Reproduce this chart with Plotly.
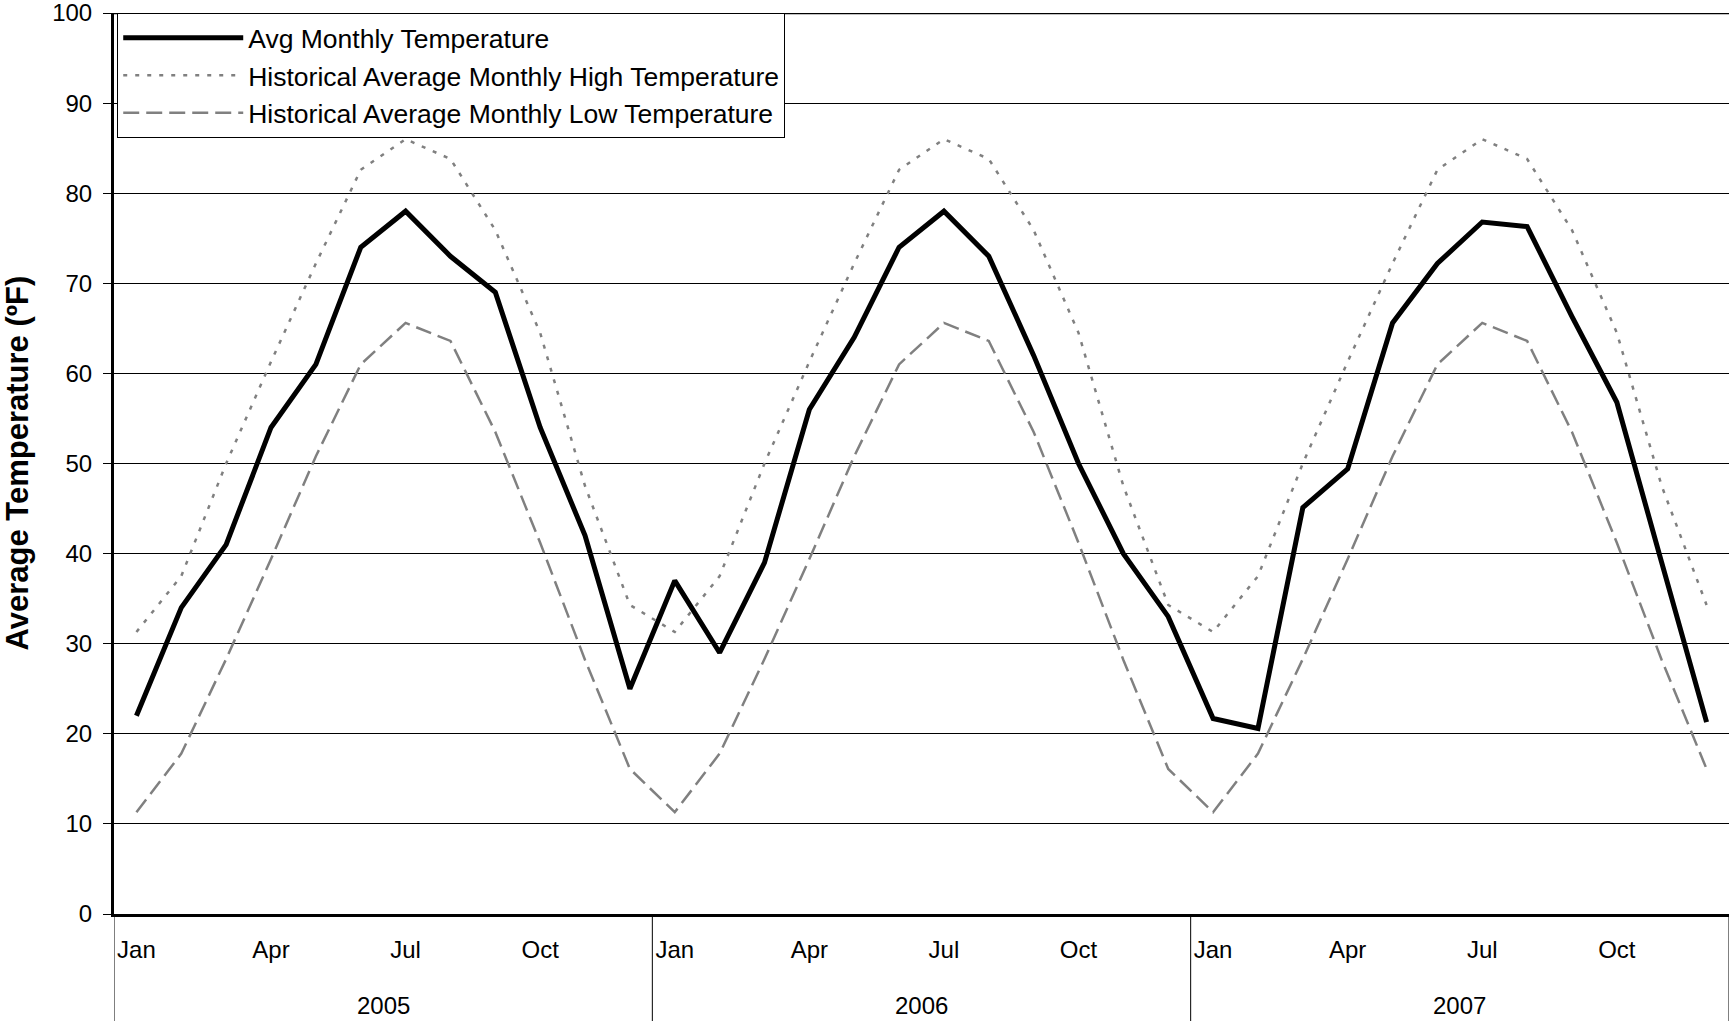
import plotly.graph_objects as go

years = ["2005", "2006", "2007"]
months = ["Jan", "Feb", "Mar", "Apr", "May", "Jun", "Jul", "Aug", "Sep", "Oct", "Nov", "Dec"]
shown_months = ["Jan", "Apr", "Jul", "Oct"]

avg_temp = [22, 34, 41, 54, 61, 74, 78, 73, 69, 54, 42, 25,
            37, 29, 39, 56, 64, 74, 78, 73, 62, 50, 40, 33,
            21.7, 20.6, 45.1, 49.4, 65.6, 72.2, 76.8, 76.3, 66.3, 56.8, 39, 21.3]
hist_high = [31.3, 37.5, 50, 61.3, 72.2, 82.6, 86, 83.8, 75.9, 64.5, 47.5, 34.3]
hist_low = [11.3, 17.8, 28.3, 39.4, 50.8, 61, 65.6, 63.6, 53.5, 41.2, 28.2, 16.1]

y_ticks = [0, 10, 20, 30, 40, 50, 60, 70, 80, 90, 100]

n = len(years) * len(months)
x_idx = list(range(n))
high_series = hist_high * len(years)
low_series = hist_low * len(years)

FONT = "Liberation Sans, Arial, sans-serif"
FS = 24

fig = go.Figure()
fig.add_trace(go.Scatter(x=x_idx, y=avg_temp, mode="lines", name="Avg Monthly Temperature",
                         line=dict(color="black", width=5), legendgroup="a"))
fig.add_trace(go.Scatter(x=x_idx, y=high_series, mode="lines",
                         name="Historical Average Monthly High Temperature",
                         line=dict(color="#808080", width=2.5, dash="4px,8px"), legendgroup="b"))
fig.add_trace(go.Scatter(x=x_idx, y=low_series, mode="lines",
                         name="Historical Average Monthly Low Temperature",
                         line=dict(color="#808080", width=2.5, dash="16px,7px"), legendgroup="c"))

tickvals = [i for i in x_idx if months[i % 12] in shown_months]
ticktext = [months[i % 12] for i in tickvals]

shapes = []
for k in range(len(years) + 1):
    shapes.append(dict(type="line", xref="x", yref="paper", x0=k * 12 - 0.5, x1=k * 12 - 0.5,
                       y0=0, y1=-0.125, line=dict(color="black", width=1)))
shapes.append(dict(type="line", xref="paper", yref="y", x0=0, x1=1, y0=100, y1=100,
                   line=dict(color="black", width=2.5)))

annotations = []
for k, yr in enumerate(years):
    annotations.append(dict(x=k * 12 + 5.5, y=-0.1016, xref="x", yref="paper", text=yr,
                            showarrow=False, yanchor="middle", xanchor="center",
                            font=dict(family=FONT, size=FS, color="black")))
annotations.append(dict(x=0, y=0.5, xref="paper", yref="paper", xanchor="center", yanchor="middle",
                        xshift=-97, textangle=-90, showarrow=False,
                        text="<b>Average Temperature (ºF)</b>",
                        font=dict(family=FONT, size=31, color="black")))

fig.update_layout(
    width=1729, height=1021,
    margin=dict(l=114, r=0, t=13, b=107, autoexpand=False),
    paper_bgcolor="white", plot_bgcolor="white",
    font=dict(family=FONT, size=FS, color="black"),
    showlegend=True,
    legend=dict(x=0.002, y=1, xanchor="left", yanchor="top", bgcolor="white",
                bordercolor="black", borderwidth=1, font=dict(family=FONT, size=26.5, color="black"),
                itemwidth=120, tracegroupgap=12, traceorder="normal",
                entrywidth=620, entrywidthmode="pixels"),
    shapes=shapes,
    annotations=annotations,
)
fig.update_xaxes(range=[-0.5, n - 0.5], tickmode="array", tickvals=tickvals, ticktext=ticktext,
                 showgrid=False, zeroline=False, showline=True, linecolor="black", linewidth=3,
                 ticks="", ticklabelstandoff=12, ticklabeloverflow="allow",
                 tickfont=dict(family=FONT, size=FS, color="black"))
fig.update_yaxes(range=[0, 100], tickmode="array", tickvals=y_ticks, showgrid=True,
                 gridcolor="black", gridwidth=1, zeroline=False, showline=True, linecolor="black",
                 linewidth=3, ticks="outside", ticklen=8, tickcolor="black", ticklabelstandoff=6,
                 ticklabeloverflow="allow", automargin=False,
                 tickfont=dict(family=FONT, size=FS, color="black"))

fig.write_html("out.html", config={"displayModeBar": False},
               post_script="document.body.style.margin='0';")
